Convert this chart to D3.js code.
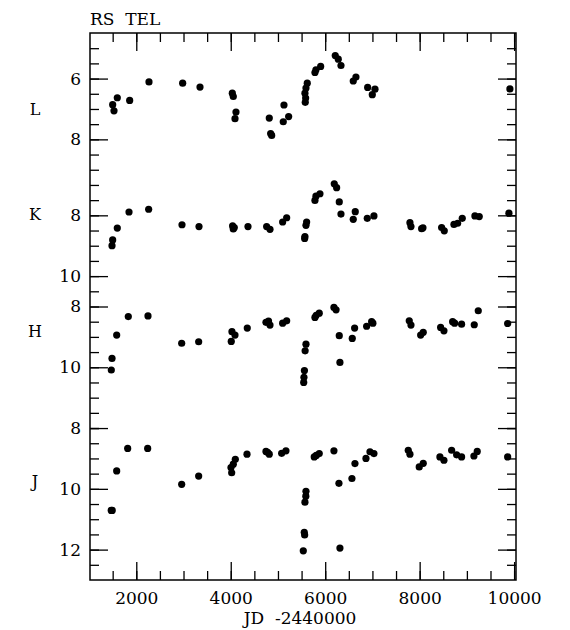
<!DOCTYPE html>
<html>
<head>
<meta charset="utf-8">
<script src="https://cdn.jsdelivr.net/npm/d3@7"></script>
<style>
  body { margin: 0; background: #fff; }
  text { font-family: "DejaVu Serif", serif; fill: #000; }
</style>
</head>
<body>
<svg></svg>
<script>
// light curves of RS Tel, JD - 2440000 vs magnitude
const lDates = [1500, 1528, 1598, 1860, 2269, 2982, 3349, 4033, 4054, 4111, 4090, 4816, 4845, 4867, 5127, 5112, 5226,
  5620, 5593, 5571, 5586, 5578, 5783, 5804, 5904, 6213, 6277, 6334, 6594, 6651, 6899, 6997, 7054, 9911];
const lMags = [6.86, 7.06, 6.63, 6.72, 6.11, 6.15, 6.28, 6.48, 6.59, 7.10, 7.32, 7.30, 7.81, 7.87, 6.87, 7.42, 7.25,
  6.15, 6.31, 6.48, 6.64, 6.78, 5.80, 5.71, 5.60, 5.24, 5.36, 5.57, 6.08, 5.95, 6.29, 6.53, 6.35, 6.34];

const kDates = [1486, 1500, 1598, 1846, 2262, 2968, 3328, 4040, 4075, 4054, 4365, 4760, 4831, 5099, 5184,
  5571, 5565, 5607, 5593, 5783, 5804, 5889, 6192, 6242, 6298, 6334, 6594, 6637, 6891, 7032,
  7794, 7816, 8042, 8070, 8465, 8521, 8726, 8804, 8902, 9170, 9262, 9890];
const kMags = [9.00, 8.81, 8.42, 7.89, 7.80, 8.31, 8.37, 8.35, 8.40, 8.45, 8.37, 8.37, 8.46, 8.22, 8.08,
  8.70, 8.76, 8.22, 8.33, 7.51, 7.37, 7.29, 6.96, 7.09, 7.56, 7.96, 8.13, 7.88, 8.10, 8.02,
  8.24, 8.37, 8.44, 8.41, 8.40, 8.51, 8.30, 8.26, 8.10, 8.02, 8.04, 7.93];

const hDates = [1486, 1471, 1585, 1831, 2248, 2961, 3321, 4026, 4090, 4011, 4350, 4746, 4800, 4831, 5099, 5184,
  5593, 5575, 5560, 5550, 5545, 5783, 5810, 5874, 6185, 6230, 6298, 6312, 6573, 6623, 6877, 6983, 7010,
  7780, 7816, 8021, 8076, 8444, 8514, 8698, 8740, 8888, 9156, 9241, 9863];
const hMags = [9.71, 10.09, 8.94, 8.33, 8.31, 9.21, 9.16, 8.83, 8.94, 9.15, 8.71, 8.52, 8.48, 8.61, 8.55, 8.47,
  9.24, 9.46, 10.11, 10.33, 10.50, 8.36, 8.29, 8.22, 8.03, 8.11, 8.96, 9.84, 9.05, 8.71, 8.65, 8.50, 8.55,
  8.47, 8.61, 8.94, 8.85, 8.69, 8.80, 8.50, 8.55, 8.58, 8.60, 8.14, 8.56];

const jDates = [1470, 1490, 1585, 1818, 2241, 2961, 3321, 4005, 4020, 4054, 4097, 4344, 4746, 4780, 4816, 5078, 5169,
  5593, 5590, 5571, 5557, 5565, 5536, 5768, 5810, 5874, 6185, 6291, 6312, 6566, 6630, 6863, 6948, 7032,
  7759, 7794, 7991, 8076, 8429, 8514, 8677, 8783, 8888, 9149, 9219, 9863];
const jMags = [10.71, 10.71, 9.41, 8.67, 8.67, 9.85, 9.58, 9.30, 9.47, 9.19, 9.03, 8.86, 8.77, 8.80, 8.86, 8.83, 8.75,
  10.08, 10.24, 10.44, 11.43, 11.52, 12.04, 8.95, 8.90, 8.84, 8.75, 9.82, 11.95, 9.66, 9.17, 9.00, 8.78, 8.84,
  8.73, 8.86, 9.28, 9.16, 8.95, 9.06, 8.73, 8.88, 8.95, 8.92, 8.77, 8.95];

const bandNames = ['L', 'K', 'H', 'J'];
const bandRanges = [[4.5, 8.5], [6, 10], [7, 12], [8, 13]];
const bandLabels = [[6, 8], [8, 10], [8, 10], [8, 10, 12]];
const xTicks = [2000, 4000, 6000, 8000, 10000];

const [svgWidth, svgHeight] = [570, 630];
const svg = d3.select('svg')
  .attr('width', svgWidth)
  .attr('height', svgHeight);

const [frameLeft, frameRight, frameTop, frameBottom] = [90, 516, 33, 580];
// where the band letter sits, in that band's magnitudes
const nameAt = [7, 7.95, 8.8, 9.75];
const x = d3.scaleLinear().domain([1020, 10040]).range([frameLeft, frameRight]);

// each band gets a slice of the frame, proportional to its magnitude span
const pxPerMag = (frameBottom - frameTop) / d3.sum(bandRanges, d => d[1] - d[0]);
let y0 = frameTop;
const panels = bandNames.map((name, i) => {
  const [m0, m1] = bandRanges[i];
  const h = (m1 - m0) * pxPerMag;
  const scale = d3.scaleLinear().domain([m0, m1]).range([y0, y0 + h]);
  y0 += h;
  return { name, scale, labels: bandLabels[i] };
});
panels[0].dates = lDates; panels[0].mags = lMags;
panels[1].dates = kDates; panels[1].mags = kMags;
panels[2].dates = hDates; panels[2].mags = hMags;
panels[3].dates = jDates; panels[3].mags = jMags;

const styleAxis = (g) => {
  g.select('.domain').remove();
  g.selectAll('line').attr('stroke', '#000').attr('stroke-width', 1.3);
  g.selectAll('text').style('font-family', '"DejaVu Serif", serif').style('font-size', '17px');
};

// x axis: ticks every 500, long ones every 2000
const minorX = d3.range(1500, 10001, 500);
svg.append('g').attr('transform', `translate(0,${frameBottom})`)
  .call(d3.axisBottom(x).tickValues(minorX).tickSize(-9).tickFormat(''))
  .call(styleAxis);
svg.append('g').attr('transform', `translate(0,${frameBottom})`)
  .call(d3.axisBottom(x).tickValues(xTicks).tickSize(-18).tickPadding(12).tickFormat(d3.format('d')))
  .call(styleAxis);
svg.append('g').attr('transform', `translate(0,${frameTop})`)
  .call(d3.axisTop(x).tickValues(minorX).tickSize(-9).tickFormat(''))
  .call(styleAxis);
svg.append('g').attr('transform', `translate(0,${frameTop})`)
  .call(d3.axisTop(x).tickValues(xTicks).tickSize(-18).tickFormat(''))
  .call(styleAxis);

panels.forEach((p, i) => {
  const [m0, m1] = p.scale.domain();
  const minor = i < 3 ? d3.range(m0 + 0.5, m1 + 0.01, 0.5) : d3.range(m0, m1 - 0.01, 0.5);
  svg.append('g').attr('transform', `translate(${frameLeft},0)`)
    .call(d3.axisLeft(p.scale).tickValues(minor).tickSize(-9).tickFormat(''))
    .call(styleAxis);
  svg.append('g').attr('transform', `translate(${frameLeft},0)`)
    .call(d3.axisLeft(p.scale).tickValues(p.labels).tickSize(-18).tickPadding(9).tickFormat(d3.format('d')))
    .call(styleAxis);
  svg.append('g').attr('transform', `translate(${frameRight},0)`)
    .call(d3.axisLeft(p.scale).tickValues(minor).tickSize(9).tickFormat(''))
    .call(styleAxis);
  svg.append('g').attr('transform', `translate(${frameRight},0)`)
    .call(d3.axisLeft(p.scale).tickValues(p.labels).tickSize(18).tickFormat(''))
    .call(styleAxis);

  svg.append('text')
    .attr('x', 35)
    .attr('y', p.scale(nameAt[i]))
    .attr('dy', '0.36em')
    .attr('text-anchor', 'middle')
    .attr('fill', '#000')
    .style('font-size', '16px')
    .text(p.name);

  svg.append('g')
    .selectAll('circle')
    .data(p.dates.map((d, k) => ({ jd: d, mag: p.mags[k] })))
    .enter()
    .append('circle')
    .attr('cx', d => x(d.jd))
    .attr('cy', d => p.scale(d.mag))
    .attr('r', 3.6)
    .attr('fill', '#000');
});

// frame
svg.append('rect')
  .attr('x', frameLeft).attr('y', frameTop)
  .attr('width', frameRight - frameLeft).attr('height', frameBottom - frameTop)
  .attr('fill', 'none')
  .attr('stroke', '#000')
  .attr('stroke-width', 1.5);

svg.append('text')
  .attr('x', 90).attr('y', 25)
  .style('font-size', '17px')
  .style('white-space', 'pre')
  .text('RS  TEL');

svg.append('text')
  .attr('x', 300).attr('y', 624)
  .attr('text-anchor', 'middle')
  .style('font-size', '17px')
  .style('white-space', 'pre')
  .text('JD  -2440000');
</script>
</body>
</html>
